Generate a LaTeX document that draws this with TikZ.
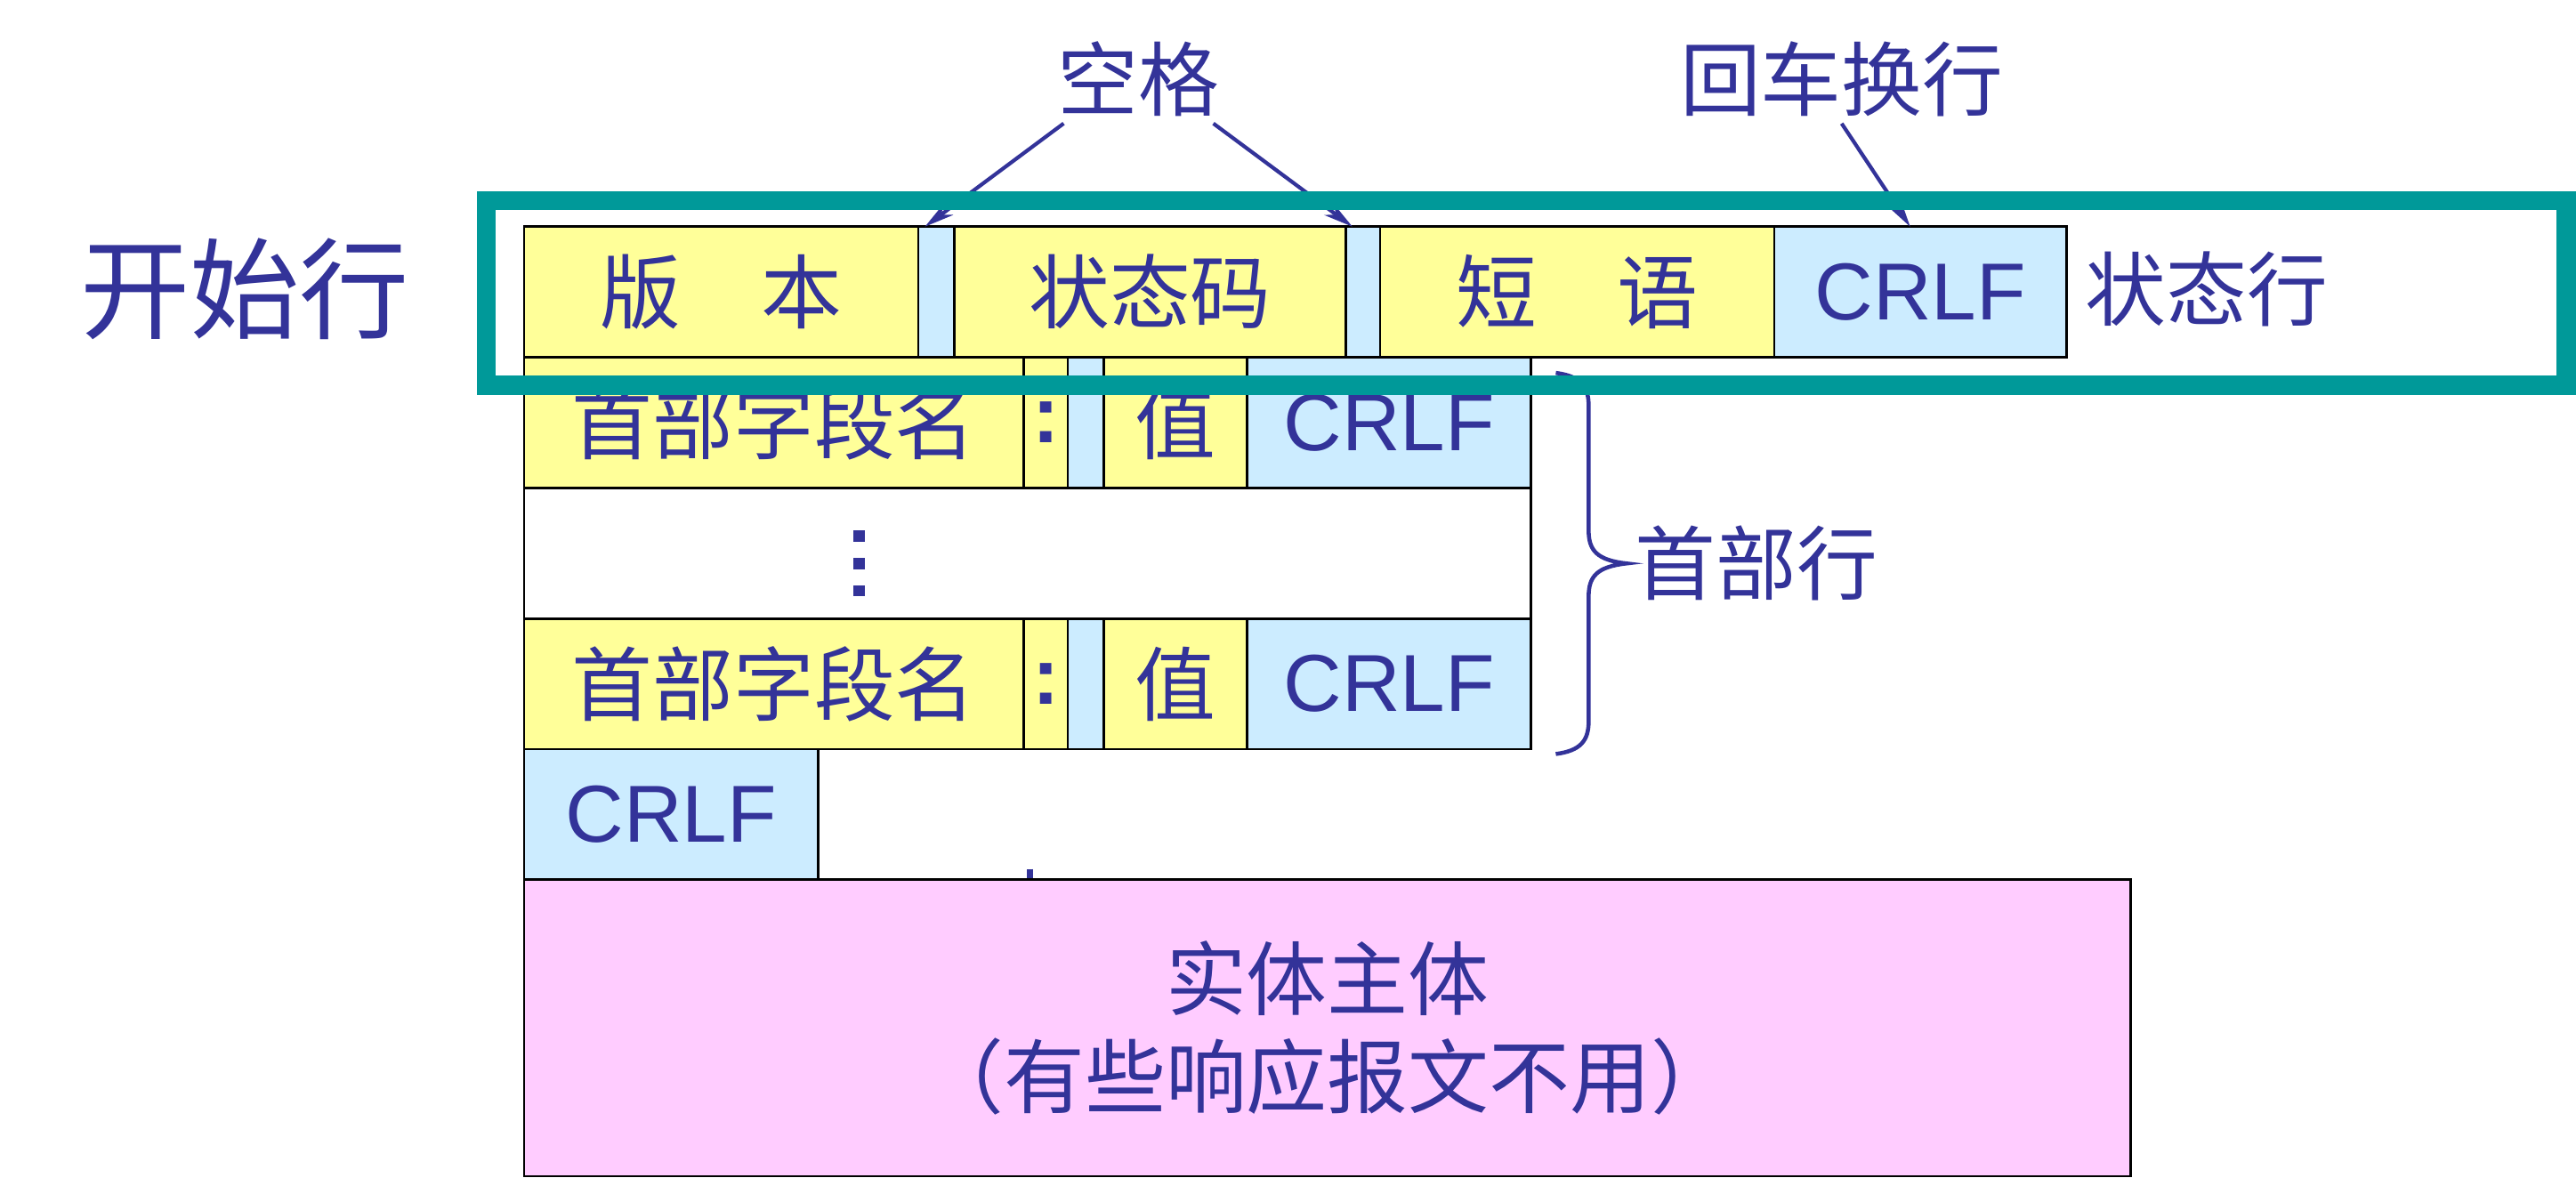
\documentclass[tikz,border=0pt]{standalone}
\usepackage{fontspec}
\setmainfont{Liberation Sans}
\newfontfamily\cjk{Noto Sans CJK SC}
\usetikzlibrary{positioning,arrows.meta}
\definecolor{ink}{HTML}{333399}
\definecolor{fieldyellow}{HTML}{FFFF99}
\definecolor{sepblue}{HTML}{CCECFF}
\definecolor{framegreen}{HTML}{009999}
\definecolor{bodypink}{HTML}{FFCCFF}
\begin{document}
\begin{tikzpicture}[
      x=0.2mm, y=-0.2mm,
      cell/.style={draw=black, line width=0.3mm, inner sep=0pt, outer sep=0pt, text=ink,
        minimum height=15.9mm, font=\cjk\fontsize{28}{30}\selectfont},
      wd/.style={minimum width=#1*0.2mm},
      field/.style={cell, fill=fieldyellow},
      gap/.style={cell, fill=sepblue},
      eol/.style={cell, fill=sepblue, font=\fontsize{28}{30}\selectfont},
      lbl/.style={text=ink, inner sep=0pt, font=\cjk\fontsize{28}{30}\selectfont},
      pointer/.style={draw=ink, line width=1.3pt, -{Stealth[length=3.6mm,width=1.8mm]}},
      bracket/.style={draw=ink, line width=1.4pt},
      frame/.style={draw=framegreen, line width=2.3mm}
    ]
    \useasboundingbox (0,0) rectangle (1568,717);

    % status line
    \node[field, wd=240, anchor=north west] (ver) at (319,138) {版　本};
    \node[gap, wd=22, right=0pt of ver] (sp1) {};
    \node[field, wd=238, right=0pt of sp1] (code) {状态码};
    \node[gap, wd=21, right=0pt of code] (sp2) {};
    \node[field, wd=240, right=0pt of sp2] (phrase) {短　语};
    \node[eol, wd=178, right=0pt of phrase] (crlf0) {CRLF};

    % header lines
    \node[field, wd=304, anchor=north west] (nameA) at (ver.south west) {首部字段名};
    \node[field, wd=27, right=0pt of nameA, font=\bfseries\fontsize{28}{30}\selectfont] (colA) {:};
    \node[gap, wd=22, right=0pt of colA] (spA) {};
    \node[field, wd=87, right=0pt of spA] (valA) {值};
    \node[eol, wd=173, right=0pt of valA] (crlfA) {CRLF};

    \node[cell, fill=white, wd=613, anchor=north west] (more) at (nameA.south west) {};
    \draw[draw=ink, line width=1.34mm, dash pattern=on 1.34mm off 2mm] (523,323) -- (523,363);

    \node[field, wd=304, anchor=north west] (nameB) at (more.south west) {首部字段名};
    \node[field, wd=27, right=0pt of nameB, font=\bfseries\fontsize{28}{30}\selectfont] (colB) {:};
    \node[gap, wd=22, right=0pt of colB] (spB) {};
    \node[field, wd=87, right=0pt of spB] (valB) {值};
    \node[eol, wd=173, right=0pt of valB] (crlfB) {CRLF};

    % blank line and body
    \node[eol, wd=179, anchor=north west] (crlfE) at (nameB.south west) {CRLF};
    \draw[ink, line width=0.8mm] (627,529) -- (627,536);
    \node[cell, fill=bodypink, wd=978, minimum height=36.1mm, anchor=north west, align=center,
      font=\cjk\fontsize{28}{34}\selectfont] (body) at (crlfE.south west)
      {实体主体\\（有些响应报文不用）};

    % labels
    \node[lbl, font=\cjk\fontsize{38}{40}\selectfont] (start) at (149,176) {开始行};
    \node[lbl] (status) at (1343,176) {状态行};
    \node[lbl] (space) at (693,48) {空格};
    \node[lbl] (newline) at (1121,48) {回车换行};
    \node[lbl] (hdr) at (1069,343) {首部行};

    \draw[pointer] ([shift={(4,4)}]space.south west) -- (sp1.100);
    \draw[pointer] ([shift={(-4,4)}]space.south east) -- (sp2.99);
    \draw[pointer] ([shift={(0,4)}]newline.south) -- (crlf0.99);

    % brace over the header lines
    \draw[bracket] (947,227) .. controls (962,229) and (967,235) .. (967,247) -- (967,323)
      .. controls (967,335) and (972,341) .. (990,343)
      .. controls (972,345) and (967,351) .. (967,363) -- (967,439)
      .. controls (967,451) and (962,457) .. (947,459);

    % start line frame
    \draw[frame] (296,122) rectangle (1562,234.5);
\end{tikzpicture}
\end{document}
